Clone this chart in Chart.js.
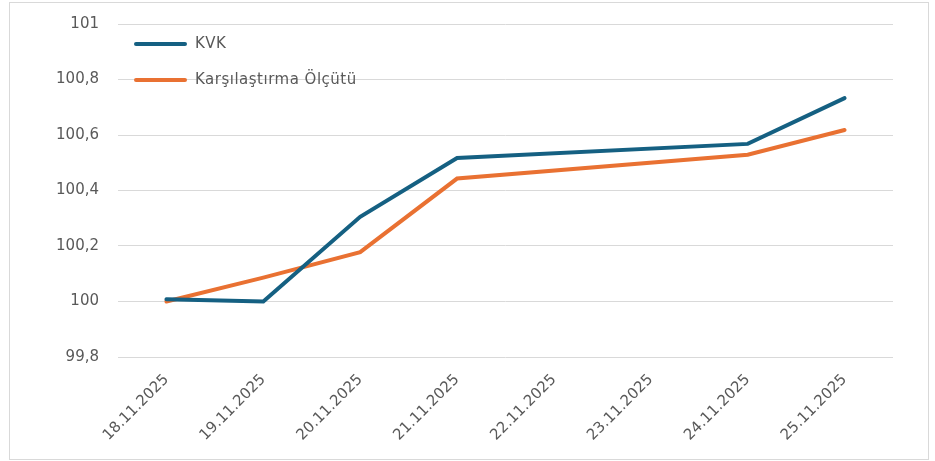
<!DOCTYPE html>
<html>
<head>
<meta charset="utf-8">
<script src="https://cdn.jsdelivr.net/npm/chart.js@4"></script>
<style>
  html, body { margin: 0; padding: 0; background: #fff; }
  #wrap {
    position: absolute; left: 9px; top: 2px;
    width: 918px; height: 456px;
    border: 1px solid #d9d9d9;
  }
</style>
</head>
<body>
<div id="wrap"><canvas id="myChart"></canvas></div>
<script>
// Günlük değerler (22 ve 23 Kasım boş)
const dates = ['18.11.2025', '19.11.2025', '20.11.2025', '21.11.2025', '22.11.2025', '23.11.2025', '24.11.2025', '25.11.2025'];
const kvkValues = [100.008, 100.0, 100.305, 100.517, null, null, 100.568, 100.733];
const benchmarkValues = [100.0, 100.086, 100.178, 100.443, null, null, 100.529, 100.618];
const seriesNames = ['KVK', 'Karşılaştırma Ölçütü'];
const seriesColors = ['#156082', '#E97132'];

const fontFamily = "'DejaVu Sans', sans-serif";

// Legend drawn inside the plot area, top-left, line samples + labels
const innerLegend = {
  id: 'innerLegend',
  afterDraw(chart) {
    const ctx = chart.ctx;
    const area = chart.chartArea;
    ctx.save();
    ctx.font = '15px ' + fontFamily;
    ctx.letterSpacing = '0.5px';
    ctx.textBaseline = 'middle';
    chart.data.datasets.forEach((ds, i) => {
      const y = area.top + 20 + i * 36;
      const x0 = area.left + 18;
      ctx.strokeStyle = ds.borderColor;
      ctx.lineWidth = 4;
      ctx.lineCap = 'round';
      ctx.beginPath();
      ctx.moveTo(x0, y);
      ctx.lineTo(x0 + 49, y);
      ctx.stroke();
      ctx.fillStyle = '#595959';
      ctx.fillText(ds.label, x0 + 59, y);
    });
    ctx.restore();
  }
};

const ctx = document.getElementById('myChart').getContext('2d');
new Chart(ctx, {
  type: 'line',
  data: {
    labels: dates,
    datasets: [
      {
        label: seriesNames[0],
        data: kvkValues,
        borderColor: seriesColors[0],
        backgroundColor: seriesColors[0],
        borderWidth: 4,
        pointRadius: 0,
        tension: 0,
        spanGaps: true,
        borderCapStyle: 'round'
      },
      {
        label: seriesNames[1],
        data: benchmarkValues,
        borderColor: seriesColors[1],
        backgroundColor: seriesColors[1],
        borderWidth: 4,
        pointRadius: 0,
        tension: 0,
        spanGaps: true,
        borderCapStyle: 'round'
      }
    ]
  },
  options: {
    responsive: true,
    maintainAspectRatio: false,
    animation: false,
    layout: { padding: { top: 21, right: 35, left: 0, bottom: 0 } },
    scales: {
      x: {
        offset: true,
        grid: { display: false },
        border: { display: false },
        ticks: {
          color: '#595959',
          font: { family: fontFamily, size: 15 },
          minRotation: 45,
          maxRotation: 45,
          padding: 6,
          autoSkip: false
        },
        afterFit(scale) { scale.height = 102; }
      },
      y: {
        min: 99.8,
        max: 101,
        grid: { color: '#d9d9d9', lineWidth: 1, drawTicks: false },
        border: { display: false },
        ticks: {
          stepSize: 0.2,
          color: '#595959',
          padding: 19,
          font: { family: fontFamily, size: 15 },
          callback: (v) => String(Math.round(v * 10) / 10).replace('.', ',')
        },
        afterFit(scale) {
          scale.width = 108;
          scale.paddingTop = 0;
          scale.paddingBottom = 0;
        }
      }
    },
    plugins: {
      legend: { display: false },
      tooltip: { enabled: false }
    }
  },
  plugins: [innerLegend]
});
</script>
</body>
</html>
